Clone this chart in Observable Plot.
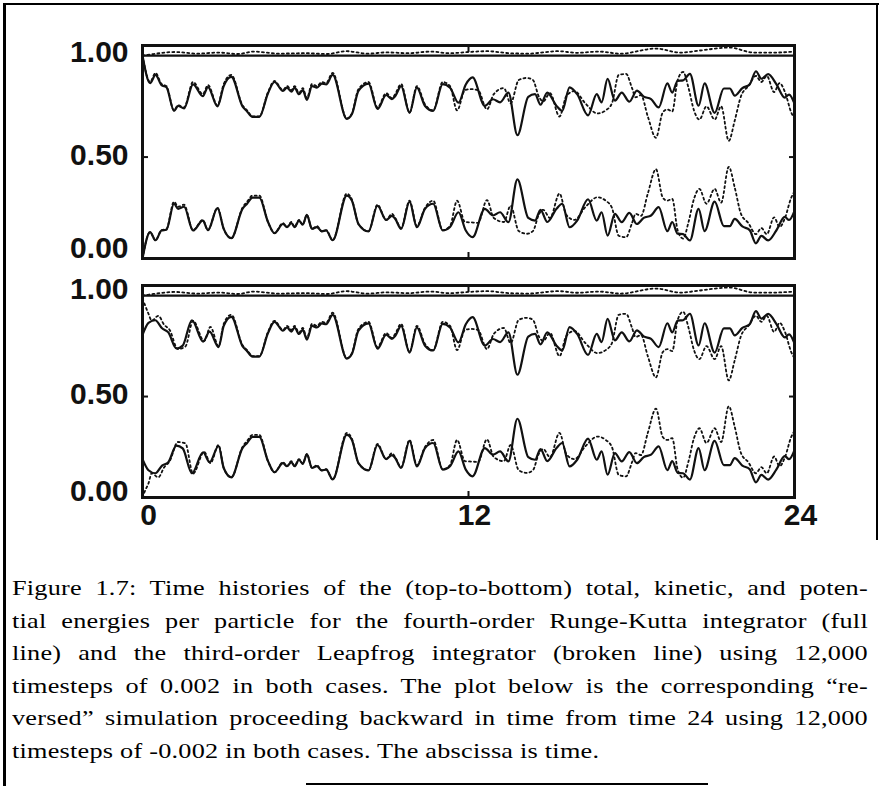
<!DOCTYPE html>
<html>
<head>
<meta charset="utf-8">
<script src="https://cdn.jsdelivr.net/npm/d3@7"></script>
<script src="https://cdn.jsdelivr.net/npm/@observablehq/plot@0.6"></script>
<style>
  html, body { margin: 0; padding: 0; background: #fff; }
  #page { position: relative; width: 882px; height: 786px; overflow: hidden; background: #fff; }
  #top, #bot { position: absolute; left: 0; }
  #top { top: 0; }
  #bot { top: 265px; }
  .bd { position: absolute; background: #000; }
  #cap { position: absolute; left: 12px; top: 572px; width: 701.6px;
         transform: scaleX(1.22); transform-origin: 0 0;
         font-family: "Liberation Serif", "Times New Roman", serif; font-size: 21.5px;
         line-height: 32.6px; color: #000; letter-spacing: 0.2px; }
  #cap .l { text-align: justify; text-align-last: justify; white-space: nowrap; }
  #cap .l.last { text-align-last: left; }
</style>
</head>
<body>
<div id="page">
  <div class="bd" style="left:3px;top:3px;width:3px;height:783px"></div>
  <div class="bd" style="left:3px;top:3px;width:876px;height:2px"></div>
  <div class="bd" style="left:876px;top:3px;width:2px;height:537px"></div>
  <div class="bd" style="left:306px;top:783px;width:402px;height:2px"></div>
  <div id="top"></div>
  <div id="bot"></div>
  <div id="cap">
    <div class="l">Figure 1.7: Time histories of the (top-to-bottom) total, kinetic, and poten-</div>
    <div class="l">tial energies per particle for the fourth-order Runge-Kutta integrator (full</div>
    <div class="l">line) and the third-order Leapfrog integrator (broken line) using 12,000</div>
    <div class="l">timesteps of 0.002 in both cases. The plot below is the corresponding “re-</div>
    <div class="l">versed” simulation proceeding backward in time from time 24 using 12,000</div>
    <div class="l last">timesteps of -0.002 in both cases. The abscissa is time.</div>
  </div>
</div>
<script>
// ---------- Data ----------
// x tick labels / y tick labels
const xTicks = [0, 12, 24];
const yTicks = [0, 0.5, 1];

// Runge-Kutta (full line), forward run: times, potential, kinetic
const tRK = [0, 0.28, 0.48, 0.7, 0.88, 1.16, 1.31, 1.53, 1.86, 2.22, 2.41, 2.76, 2.99, 3.27, 3.68, 3.85, 4.05, 4.3, 4.62, 4.86,
  5.17, 5.32, 5.48, 5.6, 5.76, 5.9, 6.05, 6.24, 6.42, 6.6, 6.76, 7.0, 7.52, 7.71, 7.95, 8.32, 8.65, 8.97, 9.18, 9.3,
  9.52, 9.83, 10.1, 10.4, 10.7, 11.05, 11.32, 11.63, 11.9, 12.15, 12.6, 12.9, 13.16, 13.47, 13.8, 14.2, 14.45, 14.65, 14.9, 15.24,
  15.45, 15.72, 16.0, 16.4, 16.72, 16.9, 17.12, 17.39, 17.64, 17.92, 18.2, 18.45, 18.72, 19.0, 19.32, 19.5, 19.7, 19.9, 20.15, 20.47,
  20.69, 21.06, 21.4, 21.62, 21.8, 22.08, 22.35, 22.58, 22.78, 23.03, 23.33, 23.64, 23.8, 24];
const pRK = [0.0, 0.13, 0.09, 0.138, 0.142, 0.27, 0.245, 0.255, 0.138, 0.187, 0.14, 0.248, 0.146, 0.10, 0.245, 0.27, 0.30, 0.30, 0.18, 0.125,
  0.17, 0.155, 0.175, 0.155, 0.187, 0.167, 0.215, 0.146, 0.155, 0.134, 0.138, 0.09, 0.31, 0.285, 0.17, 0.134, 0.26, 0.19, 0.21, 0.196,
  0.146, 0.28, 0.154, 0.245, 0.27, 0.138, 0.155, 0.228, 0.138, 0.105, 0.245, 0.212, 0.228, 0.179, 0.39, 0.2, 0.187, 0.24, 0.18, 0.245,
  0.27, 0.154, 0.187, 0.292, 0.187, 0.228, 0.113, 0.22, 0.179, 0.225, 0.17, 0.2, 0.212, 0.253, 0.135, 0.18, 0.122, 0.12, 0.089, 0.245,
  0.135, 0.28, 0.16, 0.16, 0.195, 0.158, 0.14, 0.075, 0.112, 0.089, 0.138, 0.205, 0.19, 0.235];
const kRK = [1.0, 0.865, 0.905, 0.855, 0.845, 0.728, 0.752, 0.74, 0.858, 0.8, 0.845, 0.75, 0.85, 0.895, 0.75, 0.725, 0.698, 0.698, 0.815, 0.87,
  0.826, 0.842, 0.822, 0.842, 0.81, 0.83, 0.782, 0.85, 0.842, 0.862, 0.858, 0.905, 0.688, 0.712, 0.826, 0.862, 0.737, 0.806, 0.786, 0.8,
  0.85, 0.718, 0.842, 0.752, 0.728, 0.86, 0.842, 0.768, 0.858, 0.893, 0.752, 0.785, 0.77, 0.818, 0.608, 0.797, 0.81, 0.758, 0.818, 0.752,
  0.728, 0.844, 0.81, 0.706, 0.81, 0.77, 0.885, 0.778, 0.818, 0.773, 0.828, 0.798, 0.786, 0.745, 0.863, 0.818, 0.876, 0.878, 0.91, 0.753,
  0.863, 0.718, 0.838, 0.838, 0.803, 0.84, 0.858, 0.923, 0.886, 0.909, 0.86, 0.793, 0.808, 0.763];
// Runge-Kutta total energy (constant)
const tERK = [0, 24];
const eRK = [1.0, 1.0];

// Leapfrog (broken line), forward run: times, potential, kinetic
const tLF = [0, 0.28, 0.48, 0.7, 0.88, 1.16, 1.31, 1.53, 1.86, 2.22, 2.41, 2.76, 2.99, 3.27, 3.68, 3.85, 4.05, 4.3, 4.62, 4.86,
  5.17, 5.32, 5.48, 5.6, 5.76, 5.9, 6.05, 6.24, 6.42, 6.6, 6.76, 7.0, 7.52, 7.71, 7.95, 8.32, 8.65, 8.97, 9.18, 9.3,
  9.52, 9.83, 10.1, 10.4, 10.7, 11.05, 11.32, 11.58, 11.87, 12.1, 12.35, 12.68, 12.93, 13.3, 13.55, 13.85, 14.15, 14.37, 14.6, 14.75,
  15.0, 15.35, 15.6, 15.9, 16.3, 16.75, 17.05, 17.28, 17.53, 17.8, 18.02, 18.15, 18.35, 18.6, 18.9, 19.15, 19.32, 19.5, 19.7, 19.9,
  20.1, 20.3, 20.5, 20.76, 21.06, 21.3, 21.58, 21.8, 22.03, 22.3, 22.58, 22.78, 22.98, 23.25, 23.45, 23.65, 23.88, 24];
const pLF = [0.0, 0.13, 0.09, 0.14, 0.145, 0.28, 0.255, 0.265, 0.14, 0.19, 0.14, 0.25, 0.146, 0.10, 0.25, 0.28, 0.31, 0.31, 0.18, 0.125,
  0.175, 0.155, 0.18, 0.155, 0.19, 0.167, 0.215, 0.146, 0.16, 0.134, 0.14, 0.09, 0.32, 0.29, 0.17, 0.134, 0.265, 0.19, 0.22, 0.2,
  0.15, 0.285, 0.16, 0.25, 0.285, 0.14, 0.16, 0.285, 0.18, 0.178, 0.176, 0.288, 0.2, 0.18, 0.26, 0.135, 0.122, 0.135, 0.22, 0.24,
  0.2, 0.32, 0.215, 0.19, 0.253, 0.302, 0.285, 0.25, 0.112, 0.105, 0.175, 0.22, 0.21, 0.32, 0.44, 0.30, 0.285, 0.294, 0.138, 0.098,
  0.18, 0.294, 0.343, 0.27, 0.343, 0.275, 0.452, 0.35, 0.22, 0.175, 0.12, 0.15, 0.12, 0.203, 0.155, 0.2, 0.30, 0.33];
const kLF = [1.0, 0.87, 0.915, 0.86, 0.85, 0.73, 0.755, 0.745, 0.87, 0.81, 0.855, 0.755, 0.86, 0.905, 0.755, 0.73, 0.7, 0.7, 0.82, 0.875,
  0.83, 0.85, 0.83, 0.85, 0.815, 0.84, 0.79, 0.86, 0.85, 0.87, 0.865, 0.915, 0.69, 0.715, 0.835, 0.87, 0.745, 0.815, 0.79, 0.81,
  0.86, 0.72, 0.85, 0.76, 0.73, 0.87, 0.85, 0.73, 0.83, 0.835, 0.83, 0.735, 0.81, 0.84, 0.765, 0.88, 0.89, 0.88, 0.795, 0.775,
  0.815, 0.70, 0.80, 0.825, 0.765, 0.715, 0.73, 0.765, 0.905, 0.91, 0.84, 0.795, 0.805, 0.70, 0.595, 0.72, 0.735, 0.725, 0.88, 0.92,
  0.84, 0.73, 0.685, 0.75, 0.685, 0.75, 0.58, 0.68, 0.80, 0.85, 0.9, 0.87, 0.9, 0.82, 0.865, 0.82, 0.72, 0.69];
// Leapfrog total energy
const tELF = [0, 0.4, 1.2, 2, 2.8, 3.5, 4.1, 5, 6, 6.8, 7.5, 8.3, 9, 9.8, 10.6, 11.3, 12, 12.7, 13.5, 14.2,
  15.3, 16, 16.8, 17.6, 18.9, 19.8, 20.5, 21.6, 22.5, 23.2, 24];
const eLF = [1.0, 1.008, 1.018, 1.01, 1.015, 1.008, 1.02, 1.01, 1.012, 1.008, 1.022, 1.01, 1.016, 1.012, 1.02, 1.012, 1.018, 1.022, 1.012, 1.01,
  1.022, 1.014, 1.02, 1.01, 1.035, 1.015, 1.025, 1.04, 1.015, 1.015, 1.02];

// Reversed run (lower plot): early-time parts that differ from the upper plot
const revJoinT = 2.9;
const tRKrev = [0, 0.22, 0.47, 0.72, 0.95, 1.25, 1.48, 1.82, 2.23, 2.47, 2.8];
const pRKrev = [0.19, 0.135, 0.12, 0.158, 0.175, 0.257, 0.243, 0.12, 0.224, 0.175, 0.255];
const kRKrev = [0.805, 0.865, 0.878, 0.838, 0.818, 0.738, 0.752, 0.878, 0.772, 0.822, 0.745];
const tLFrev = [0, 0.1, 0.22, 0.34, 0.58, 0.8, 1.0, 1.3, 1.58, 1.86, 2.27, 2.5, 2.8];
const pLFrev = [0.0, 0.035, 0.07, 0.12, 0.10, 0.15, 0.18, 0.275, 0.268, 0.118, 0.226, 0.17, 0.26];
const kLFrev = [0.985, 0.95, 0.91, 0.876, 0.90, 0.855, 0.83, 0.735, 0.748, 0.875, 0.775, 0.845, 0.75];

// ---------- Build tables ----------
const rows = (ts, vs) => ts.map((t, i) => ({t, v: vs[i]}));
const joined = (tH, vH, ts, vs) => rows(tH, vH).concat(rows(ts, vs).filter(d => d.t > revJoinT));

const upper = {
  pRK: rows(tRK, pRK), kRK: rows(tRK, kRK), eRK: rows(tERK, eRK),
  pLF: rows(tLF, pLF), kLF: rows(tLF, kLF), eLF: rows(tELF, eLF)
};
const lower = {
  pRK: joined(tRKrev, pRKrev, tRK, pRK), kRK: joined(tRKrev, kRKrev, tRK, kRK), eRK: rows(tERK, eRK),
  pLF: joined(tLFrev, pLFrev, tLF, pLF), kLF: joined(tLFrev, kLFrev, tLF, kLF), eLF: rows(tELF, eLF)
};

const FONT = "'Liberation Sans', Arial, Helvetica, sans-serif";
const lab = {fontSize: 30, fontWeight: "bold", fontFamily: FONT, tickSize: 0, tickPadding: 14, label: null};
const tk = {tickSize: -6, tickFormat: () => "", strokeWidth: 2, label: null};

function panel(S, opts) {
  const solid = {x: "t", y: "v", curve: "monotone-x", stroke: "#111", strokeWidth: 2.2};
  const dotted = {x: "t", y: "v", curve: "monotone-x", stroke: "#111", strokeWidth: 1.8, strokeDasharray: "2,3"};
  const marks = [
    Plot.line(S.eRK, solid),
    Plot.line(S.eLF, dotted),
    Plot.line(S.kLF, dotted),
    Plot.line(S.pLF, dotted),
    Plot.line(S.kRK, solid),
    Plot.line(S.pRK, solid),
    Plot.frame({stroke: "#111", strokeWidth: 3}),
    // inward ticks
    Plot.axisY([yTicks[1]], {...tk, anchor: "left"}),
    Plot.axisY([yTicks[1]], {...tk, anchor: "right"}),
    Plot.axisX([xTicks[1]], {...tk, anchor: "top"}),
    Plot.axisX([xTicks[1]], {...tk, anchor: "bottom"}),
    // tick labels
    Plot.axisY([yTicks[2]], {...lab, anchor: "left", tickFormat: d3.format(".2f"), dy: opts.dy1}),
    Plot.axisY([yTicks[1]], {...lab, anchor: "left", tickFormat: d3.format(".2f"), dy: -2}),
    Plot.axisY([yTicks[0]], {...lab, anchor: "left", tickFormat: d3.format(".2f"), dy: opts.dy0})
  ];
  if (opts.xLabels) {
    marks.push(Plot.axisX(xTicks, {...lab, anchor: "bottom", tickPadding: 6, dx: 6, tickFormat: d => String(d)}));
  }
  return Plot.plot({
    width: 882, height: opts.height,
    marginLeft: 142, marginRight: 88, marginTop: opts.mt, marginBottom: opts.mb,
    x: {domain: [0, 24], label: null},
    y: {domain: [0, 1.05], label: null},
    style: {background: "transparent", overflow: "visible", fontFamily: FONT, color: "#111"},
    marks
  });
}

document.getElementById("top").append(panel(upper, {height: 265, mt: 45, mb: 7, dy1: -3, dy0: -10, xLabels: false}));
document.getElementById("bot").append(panel(lower, {height: 275, mt: 20, mb: 43, dy1: -6, dy0: -6, xLabels: true}));
</script>
</body>
</html>
